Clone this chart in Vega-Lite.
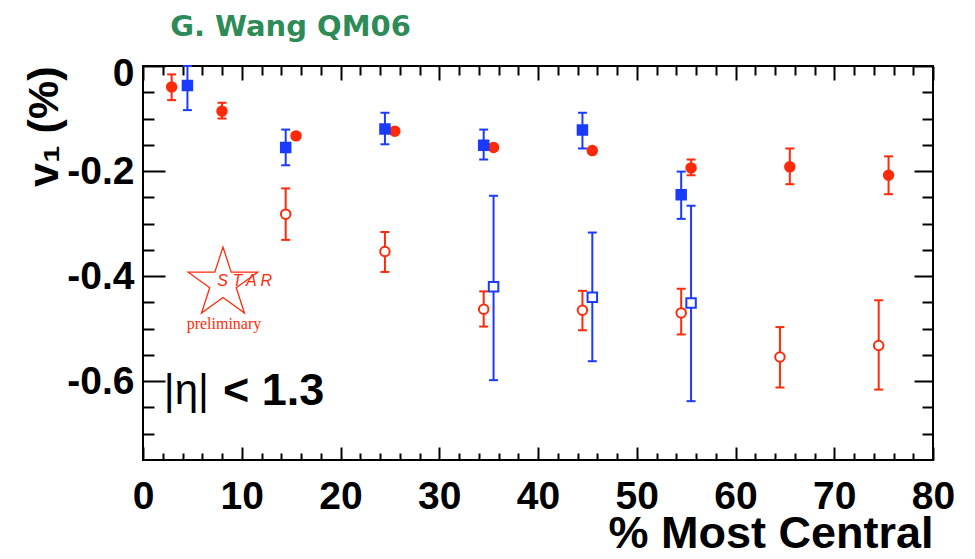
{
  "$schema": "https://vega.github.io/schema/vega-lite/v6.json",
  "width": 790,
  "height": 394,
  "autosize": "none",
  "padding": {"left": 143, "top": 66, "right": 42, "bottom": 99},
  "background": "white",
  "config": {"view": {"stroke": "black", "strokeWidth": 2}, "axis": {"grid": false}},
  "data": {"values": [
    {"series": "A", "x": 2.9, "y": -0.040, "lo": -0.016, "hi": -0.065},
    {"series": "A", "x": 8.0, "y": -0.086, "lo": -0.070, "hi": -0.100},
    {"series": "A", "x": 15.5, "y": -0.133, "lo": -0.129, "hi": -0.137},
    {"series": "A", "x": 25.5, "y": -0.124, "lo": -0.120, "hi": -0.128},
    {"series": "A", "x": 35.5, "y": -0.155, "lo": -0.151, "hi": -0.159},
    {"series": "A", "x": 45.5, "y": -0.161, "lo": -0.157, "hi": -0.165},
    {"series": "A", "x": 55.5, "y": -0.194, "lo": -0.178, "hi": -0.208},
    {"series": "A", "x": 65.5, "y": -0.192, "lo": -0.157, "hi": -0.225},
    {"series": "A", "x": 75.5, "y": -0.208, "lo": -0.172, "hi": -0.244},
    {"series": "B", "x": 4.5, "y": -0.037, "lo": 0.0, "hi": -0.084},
    {"series": "B", "x": 14.45, "y": -0.155, "lo": -0.121, "hi": -0.189},
    {"series": "B", "x": 24.5, "y": -0.120, "lo": -0.089, "hi": -0.149},
    {"series": "B", "x": 34.5, "y": -0.151, "lo": -0.121, "hi": -0.178},
    {"series": "B", "x": 44.5, "y": -0.122, "lo": -0.089, "hi": -0.157},
    {"series": "B", "x": 54.5, "y": -0.245, "lo": -0.201, "hi": -0.291},
    {"series": "C", "x": 14.45, "y": -0.282, "lo": -0.233, "hi": -0.331},
    {"series": "C", "x": 24.5, "y": -0.353, "lo": -0.316, "hi": -0.392},
    {"series": "C", "x": 34.5, "y": -0.463, "lo": -0.429, "hi": -0.496},
    {"series": "C", "x": 44.5, "y": -0.465, "lo": -0.428, "hi": -0.503},
    {"series": "C", "x": 54.5, "y": -0.470, "lo": -0.424, "hi": -0.511},
    {"series": "C", "x": 64.5, "y": -0.554, "lo": -0.497, "hi": -0.612},
    {"series": "C", "x": 74.5, "y": -0.532, "lo": -0.446, "hi": -0.616},
    {"series": "D", "x": 35.5, "y": -0.420, "lo": -0.247, "hi": -0.598},
    {"series": "D", "x": 45.5, "y": -0.440, "lo": -0.317, "hi": -0.562},
    {"series": "D", "x": 55.5, "y": -0.451, "lo": -0.266, "hi": -0.638}
  ]},
  "resolve": {"axis": {"x": "independent", "y": "independent"}},
  "layer": [
    {
      "mark": {"type": "rule", "strokeWidth": 2},
      "encoding": {
        "x": {"field": "x", "type": "quantitative", "scale": {"domain": [0, 80], "nice": false, "zero": false},
          "axis": {"orient": "bottom", "values": [0,2,4,6,8,10,12,14,16,18,20,22,24,26,28,30,32,34,36,38,40,42,44,46,48,50,52,54,56,58,60,62,64,66,68,70,72,74,76,78,80],
            "tickSize": {"condition": {"test": "datum.value % 10 === 0", "value": -13}, "value": -7},
            "tickWidth": 2, "tickColor": "black", "domain": false,
            "labelExpr": "datum.value % 10 === 0 ? format(datum.value, 'd') : ''",
            "labelFont": "Liberation Sans", "labelFontSize": 39, "labelFontWeight": "bold", "labelColor": "black",
            "labelPadding": 30, "labelOverlap": false, "labelFlush": false, "labelBound": false,
            "title": "% Most Central", "titleFont": "Liberation Sans", "titleFontSize": 45, "titleFontWeight": "bold", "titleColor": "black", "titleAnchor": "end", "titlePadding": -11}},
        "y": {"field": "lo", "type": "quantitative", "scale": {"domain": [-0.75, 0], "nice": false, "zero": false},
          "axis": {"orient": "left", "values": [0,-0.05,-0.1,-0.15,-0.2,-0.25,-0.3,-0.35,-0.4,-0.45,-0.5,-0.55,-0.6,-0.65,-0.7],
            "tickSize": {"condition": {"test": "abs(datum.value*5-round(datum.value*5))<0.001", "value": -22}, "value": -11},
            "tickWidth": 2, "tickColor": "black", "domain": false,
            "labelExpr": "abs(datum.value*5-round(datum.value*5))<0.001 ? (datum.value == 0 ? '0' : '-' + format(abs(datum.value), '.1f')) : ''",
            "labelFont": "Liberation Sans", "labelFontSize": 39, "labelFontWeight": "bold", "labelColor": "black",
            "labelPadding": 31, "labelOverlap": false, "labelFlush": false, "labelBound": false,
            "labelOffset": {"condition": {"test": "datum.value == 0", "value": 7}, "value": 0},
            "title": "v₁ (%)", "titleFont": "Liberation Sans", "titleFontSize": 43, "titleFontWeight": "bold", "titleColor": "black", "titleAnchor": "end", "titlePadding": 0}},
        "y2": {"field": "hi"},
        "color": {"field": "series", "type": "nominal", "scale": {"domain": ["A", "B", "C", "D"], "range": ["#ff2a0a", "#1a3bff", "#ff2a0a", "#1a3bff"]}, "legend": null}
      }
    },
    {
      "mark": {"type": "tick", "orient": "horizontal", "size": 9, "thickness": 2, "opacity": 1},
      "encoding": {
        "x": {"field": "x", "type": "quantitative", "scale": {"domain": [0, 80], "nice": false, "zero": false}, "axis": null},
        "y": {"field": "lo", "type": "quantitative", "scale": {"domain": [-0.75, 0], "nice": false, "zero": false}, "axis": null},
        "color": {"field": "series", "type": "nominal", "scale": {"domain": ["A", "B", "C", "D"], "range": ["#ff2a0a", "#1a3bff", "#ff2a0a", "#1a3bff"]}, "legend": null}
      }
    },
    {
      "mark": {"type": "tick", "orient": "horizontal", "size": 9, "thickness": 2, "opacity": 1},
      "encoding": {
        "x": {"field": "x", "type": "quantitative", "scale": {"domain": [0, 80], "nice": false, "zero": false}, "axis": null},
        "y": {"field": "hi", "type": "quantitative", "scale": {"domain": [-0.75, 0], "nice": false, "zero": false}, "axis": null},
        "color": {"field": "series", "type": "nominal", "scale": {"domain": ["A", "B", "C", "D"], "range": ["#ff2a0a", "#1a3bff", "#ff2a0a", "#1a3bff"]}, "legend": null}
      }
    },
    {
      "mark": {"type": "point", "strokeWidth": 2, "opacity": 1, "size": 90},
      "encoding": {
        "x": {"field": "x", "type": "quantitative", "scale": {"domain": [0, 80], "nice": false, "zero": false},
          "axis": {"orient": "top", "values": [0,2,4,6,8,10,12,14,16,18,20,22,24,26,28,30,32,34,36,38,40,42,44,46,48,50,52,54,56,58,60,62,64,66,68,70,72,74,76,78,80],
            "tickSize": {"condition": {"test": "datum.value % 10 === 0", "value": -14}, "value": -9},
            "tickWidth": 2, "tickColor": "black", "domain": false, "labels": false, "title": null}},
        "y": {"field": "y", "type": "quantitative", "scale": {"domain": [-0.75, 0], "nice": false, "zero": false},
          "axis": {"orient": "right", "values": [0,-0.05,-0.1,-0.15,-0.2,-0.25,-0.3,-0.35,-0.4,-0.45,-0.5,-0.55,-0.6,-0.65,-0.7],
            "tickSize": {"condition": {"test": "abs(datum.value*5-round(datum.value*5))<0.001", "value": -19}, "value": -11},
            "tickWidth": 2, "tickColor": "black", "domain": false, "labels": false, "title": null}},
        "shape": {"field": "series", "type": "nominal", "scale": {"domain": ["A", "B", "C", "D"], "range": ["circle", "square", "circle", "square"]}, "legend": null},
        "fill": {"field": "series", "type": "nominal", "scale": {"domain": ["A", "B", "C", "D"], "range": ["#ff2a0a", "#1a3bff", "white", "white"]}, "legend": null},
        "stroke": {"field": "series", "type": "nominal", "scale": {"domain": ["A", "B", "C", "D"], "range": ["#ff2a0a", "#1a3bff", "#ff2a0a", "#1a3bff"]}, "legend": null}
      }
    },
    {
      "data": {"values": [{"label": "G. Wang QM06"}]},
      "mark": {"type": "text", "align": "left", "baseline": "alphabetic", "font": "DejaVu Sans", "fontSize": 29, "fontWeight": "bold", "color": "#2e8b57"},
      "encoding": {
        "x": {"datum": 2.75, "type": "quantitative", "scale": {"domain": [0, 80], "nice": false, "zero": false}, "axis": null},
        "y": {"datum": 0.0578, "type": "quantitative", "scale": {"domain": [-0.75, 0], "nice": false, "zero": false}, "axis": null},
        "text": {"field": "label"}
      }
    },
    {
      "data": {"values": [{"label": "|η|"}]},
      "mark": {"type": "text", "align": "left", "baseline": "middle", "font": "Liberation Sans", "fontSize": 42, "fontWeight": "normal", "color": "black"},
      "encoding": {
        "x": {"datum": 2.1, "type": "quantitative", "scale": {"domain": [0, 80], "nice": false, "zero": false}, "axis": null},
        "y": {"datum": -0.618, "type": "quantitative", "scale": {"domain": [-0.75, 0], "nice": false, "zero": false}, "axis": null},
        "text": {"field": "label"}
      }
    },
    {
      "data": {"values": [{"label": "< 1.3"}]},
      "mark": {"type": "text", "align": "left", "baseline": "middle", "font": "Liberation Sans", "fontSize": 45, "fontWeight": "bold", "color": "black"},
      "encoding": {
        "x": {"datum": 8.1, "type": "quantitative", "scale": {"domain": [0, 80], "nice": false, "zero": false}, "axis": null},
        "y": {"datum": -0.618, "type": "quantitative", "scale": {"domain": [-0.75, 0], "nice": false, "zero": false}, "axis": null},
        "text": {"field": "label"}
      }
    },
    {
      "data": {"values": [{"label": "STAR logo"}]},
      "mark": {"type": "point", "filled": false, "opacity": 1, "strokeWidth": 1.3, "color": "#ff2a0a",
        "shape": "M0,-1L0.2245,-0.309L0.9511,-0.309L0.3633,0.118L0.5878,0.809L0,0.382L-0.5878,0.809L-0.3633,0.118L-0.9511,-0.309L-0.2245,-0.309Z",
        "size": 5329},
      "encoding": {
        "x": {"datum": 8.1, "type": "quantitative", "scale": {"domain": [0, 80], "nice": false, "zero": false}, "axis": null},
        "y": {"datum": -0.414, "type": "quantitative", "scale": {"domain": [-0.75, 0], "nice": false, "zero": false}, "axis": null}
      }
    },
    {
      "data": {"values": [{"label": "S T A R"}]},
      "mark": {"type": "text", "align": "center", "baseline": "middle", "font": "Liberation Sans", "fontSize": 16, "fontStyle": "italic", "color": "#ff2a0a"},
      "encoding": {
        "x": {"datum": 10.3, "type": "quantitative", "scale": {"domain": [0, 80], "nice": false, "zero": false}, "axis": null},
        "y": {"datum": -0.410, "type": "quantitative", "scale": {"domain": [-0.75, 0], "nice": false, "zero": false}, "axis": null},
        "text": {"field": "label"}
      }
    },
    {
      "data": {"values": [{"label": "preliminary"}]},
      "mark": {"type": "text", "align": "center", "baseline": "middle", "font": "Liberation Serif", "fontSize": 16, "color": "#ff2a0a"},
      "encoding": {
        "x": {"datum": 8.2, "type": "quantitative", "scale": {"domain": [0, 80], "nice": false, "zero": false}, "axis": null},
        "y": {"datum": -0.492, "type": "quantitative", "scale": {"domain": [-0.75, 0], "nice": false, "zero": false}, "axis": null},
        "text": {"field": "label"}
      }
    }
  ]
}
